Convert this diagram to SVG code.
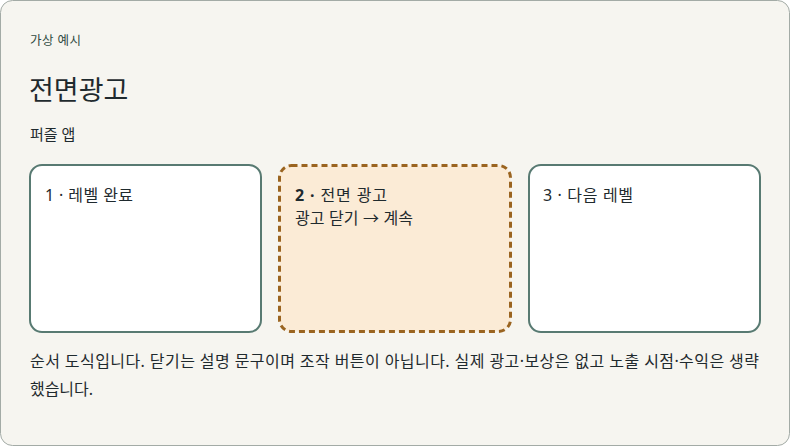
<svg xmlns="http://www.w3.org/2000/svg" width="790" height="447" viewBox="0 0 790 447">
<style>
text{font-family:"Noto Sans","Noto Sans CJK KR",sans-serif;fill:#1f2a2e}
.lbl{font-size:16px}
.box{fill:#ffffff;stroke:#587a72;stroke-width:2}
.hi{fill:#fbebd6;stroke:#9a6420;stroke-width:3;stroke-dasharray:6 4}
</style>
<rect x="0.5" y="0.5" width="789" height="445" rx="12" fill="#f6f5f0" stroke="#a3aba6" stroke-width="1"/>
<text x="30" y="45" font-size="12.5" style="fill:#2f4a42" textLength="51" lengthAdjust="spacing">가상 예시</text>
<text x="29" y="100" font-size="27">전면광고</text>
<text x="30" y="140" font-size="15">퍼즐 앱</text>
<g id="connectors"></g>
<g id="node1">
<rect class="box" x="30" y="165" width="231" height="167" rx="12"/>
<text x="45" y="201" class="lbl" textLength="88" lengthAdjust="spacing">1 · 레벨 완료</text>
</g>
<g id="node2">
<rect class="hi" x="279.5" y="165.5" width="231" height="166" rx="12"/>
<text x="295" y="201" class="lbl" textLength="92" lengthAdjust="spacing"><tspan font-weight="bold">2 ·</tspan> 전면 광고</text>
<text x="295" y="224" class="lbl" textLength="118" lengthAdjust="spacing">광고 닫기 → 계속</text>
</g>
<g id="node3">
<rect class="box" x="529" y="165" width="231" height="167" rx="12"/>
<text x="543" y="201" class="lbl" textLength="90" lengthAdjust="spacing">3 · 다음 레벨</text>
</g>
<text x="30" y="367" class="lbl" textLength="729" lengthAdjust="spacing">순서 도식입니다. 닫기는 설명 문구이며 조작 버튼이 아닙니다. 실제 광고·보상은 없고 노출 시점·수익은 생략</text>
<text x="30" y="395" class="lbl" textLength="63" lengthAdjust="spacing">했습니다.</text>
</svg>
